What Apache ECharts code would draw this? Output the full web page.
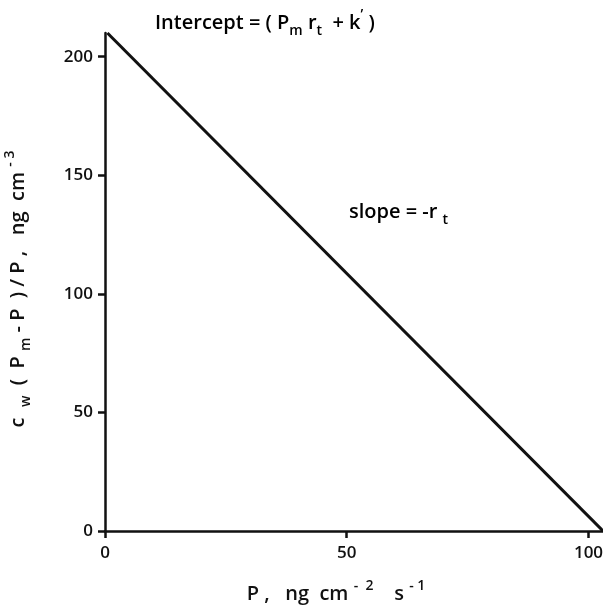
<!DOCTYPE html>
<html>
<head>
<meta charset="utf-8">
<script src="https://cdn.jsdelivr.net/npm/echarts@6/dist/echarts.min.js"></script>
<style>
  html, body { margin: 0; padding: 0; background: #fff; }
  #chart { width: 603px; height: 606px; }
</style>
</head>
<body>
<div id="chart"></div>
<script>
// line end points
const xValues = [0.5, 103]
const yValues = [210, 0]
const xTicks = [0, 50, 100]
const yTicks = [0, 50, 100, 150, 200]

const font = 'Open Sans'
const ink = '#111'

let myChart = echarts.init(document.getElementById('chart'))

let points = []
for (let i = 0; i < xValues.length; i++) {
  points.push([xValues[i], yValues[i]])
}

const supStyle = { fontFamily: font, fontWeight: 600, fontSize: 14, color: ink, lineHeight: 14, verticalAlign: 'top' }
const subStyle = { fontFamily: font, fontWeight: 600, fontSize: 14, color: ink, lineHeight: 14, verticalAlign: 'bottom' }
const mainStyle = { fontFamily: font, fontWeight: 600, fontSize: 20, color: ink, lineHeight: 30 }

myChart.setOption({
  animation: false,
  backgroundColor: '#fff',
  grid: { left: 105, right: 0, top: 33, bottom: 75, containLabel: false, outerBoundsMode: 'none' },
  xAxis: {
    type: 'value',
    min: 0,
    max: 103,
    splitLine: { show: false },
    axisLine: { lineStyle: { color: ink, width: 2.5 } },
    axisTick: { length: 7, lineStyle: { color: ink, width: 2.5 }, customValues: xTicks },
    axisLabel: { customValues: xTicks, margin: 14, fontFamily: font, fontWeight: 600, fontSize: 17, color: ink },
    name: '{a|P ,   ng  cm }{sup|-  2}{a|    s }{sup|- 1}',
    nameLocation: 'middle',
    nameGap: 48,
    nameTextStyle: { padding: [0, 36, 0, 0], rich: { a: mainStyle, sup: supStyle } }
  },
  yAxis: {
    type: 'value',
    min: 0,
    max: 210,
    splitLine: { show: false },
    axisLine: { lineStyle: { color: ink, width: 2.5 } },
    axisTick: { length: 7, lineStyle: { color: ink, width: 2.5 }, customValues: yTicks },
    axisLabel: { customValues: yTicks, margin: 12, fontFamily: font, fontWeight: 600, fontSize: 17, color: ink },
    name: '{a|c  }{sub|w}{a|  (  P }{sub|m}{a| - P  ) / P ,   ng  cm }{sup|- 3}',
    nameLocation: 'middle',
    nameGap: 72,
    nameRotate: 90,
    nameTextStyle: { padding: [0, 14, 0, 0], rich: { a: mainStyle, sub: subStyle, sup: supStyle } }
  },
  graphic: [
    {
      type: 'text',
      left: 155,
      top: 8,
      style: {
        text: '{a|Intercept = ( P}{sub|m}{a| r}{sub|t}{a|  + k}{sup|\u2019}{a| )}',
        rich: { a: mainStyle, sub: subStyle, sup: supStyle }
      }
    },
    {
      type: 'text',
      left: 349,
      top: 202,
      style: {
        text: '{a|slope = -r }{sub|t}',
        rich: { a: mainStyle, sub: subStyle }
      }
    }
  ],
  series: [{
    type: 'line',
    data: points,
    symbol: 'none',
    lineStyle: { color: ink, width: 3 }
  }]
})
</script>
</body>
</html>
